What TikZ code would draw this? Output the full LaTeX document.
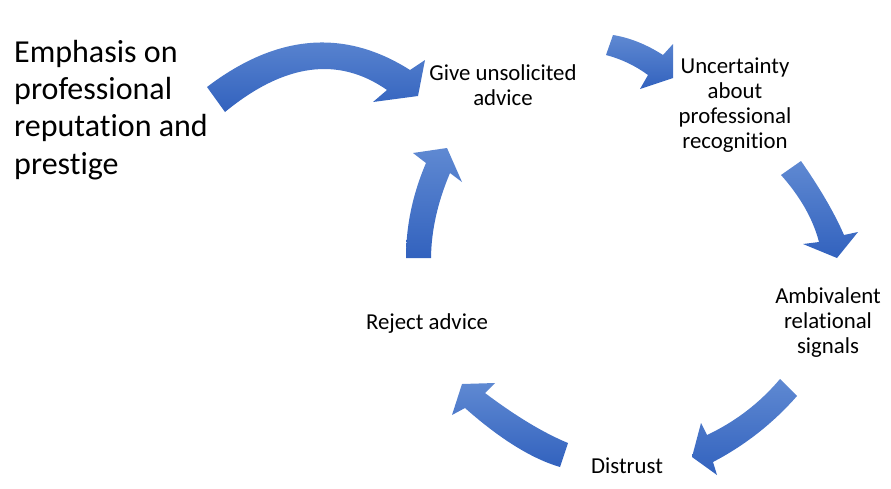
\documentclass[tikz,border=0pt]{standalone}
\usepackage{fontspec}
\setmainfont{Carlito}[Ligatures=NoCommon]
\definecolor{arrowtop}{RGB}{95,137,210}
\definecolor{arrowbot}{RGB}{50,98,190}
\begin{document}
\begin{tikzpicture}[x=1pt,y=-1pt,
  blockarrow/.style={top color=arrowtop,bottom color=arrowbot,draw=none},
  bigtext/.style={font=\fontsize{32}{37.3}\selectfont,align=left,inner sep=0pt},
  smalltext/.style={font=\fontsize{22.8}{24.7}\selectfont,align=center,inner sep=0pt}]
\useasboundingbox (0,0) rectangle (891,488);
% arrow 1: emphasis -> give advice
\shade[blockarrow] (207,87) .. controls (276.7,34) and (344.3,28.3) .. (410,70)
  -- (425,60) -- (418,96) -- (373,102) -- (387,90)
  .. controls (338.3,56) and (284.3,63.3) .. (225,112) -- cycle;
% arrow 2
\shade[blockarrow] (613,35) .. controls (629.7,37.7) and (646.3,44.3) .. (663,55)
  -- (673,44) -- (673,78) -- (640,89) -- (648,75)
  .. controls (635.3,65.7) and (621.3,59) .. (606,55) -- cycle;
% arrow 3
\shade[blockarrow] (801,161) .. controls (820,188.3) and (834.3,212.7) .. (844,235)
  -- (858,232) -- (837,258) -- (803,244) -- (819,242)
  .. controls (813,219) and (800.3,196.7) .. (781,175) -- cycle;
% arrow 4
\shade[blockarrow] (797,396) .. controls (773,423.3) and (745,445.3) .. (713,462)
  -- (717,475) -- (692,457) -- (701,423) -- (707,435)
  .. controls (735.3,421.7) and (759.7,403) .. (780,379) -- cycle;
% arrow 5
\shade[blockarrow] (560,467) .. controls (531.7,458.7) and (500,439) .. (465,408)
  -- (452,415) -- (462,384) -- (495,383) -- (485,393)
  .. controls (516,416.3) and (543.7,433) .. (568,443) -- cycle;
% arrow 6
\shade[blockarrow] (406,258) .. controls (406,225.7) and (412.7,194) .. (426,163)
  -- (413,153) -- (447,148) -- (462,182) -- (450,173)
  .. controls (437.7,202) and (431.3,230.3) .. (431,258) -- cycle;
% texts (base anchor = baseline of last line)
\node[bigtext,anchor=base west] (emph) at (14,174) {Emphasis on\\professional\\reputation and\\prestige};
\node[smalltext,anchor=base] (give) at (503,105) {Give unsolicited\\advice};
\node[smalltext,anchor=base] (unc) at (735,148) {Uncertainty\\about\\professional\\recognition};
\node[smalltext,anchor=base] (amb) at (828,353) {Ambivalent\\relational\\signals};
\node[smalltext,anchor=base] (rej) at (427,329) {Reject advice};
\node[smalltext,anchor=base] (dis) at (627,473) {Distrust};
\end{tikzpicture}
\end{document}
